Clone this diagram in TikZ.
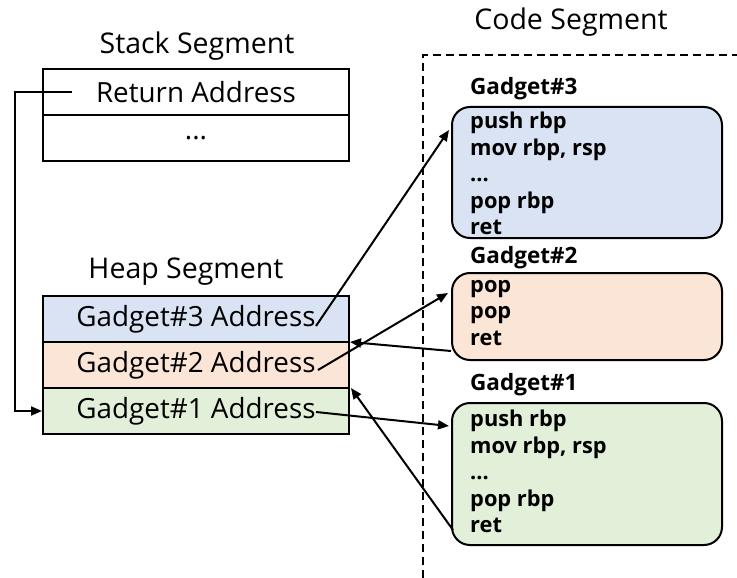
\documentclass[tikz,border=0pt]{standalone}
\usepackage{fontspec}
\setmainfont{Open Sans}
\usetikzlibrary{arrows.meta,calc}
\definecolor{cblue}{HTML}{DAE3F3}
\definecolor{corange}{HTML}{FBE5D6}
\definecolor{cgreen}{HTML}{E2F0D9}
\begin{document}
\begin{tikzpicture}[x=1pt,y=-1pt,
  lbl/.style={font=\fontsize{28.5}{32}\selectfont, inner sep=0pt},
  cell/.style={draw, line width=2pt, minimum width=306pt, minimum height=46pt, inner sep=0pt, font=\fontsize{27.8}{32}\selectfont},
  gbox/.style={draw, line width=2pt, rounded corners=18pt, minimum width=270pt, inner sep=0pt},
  gtitle/.style={font=\bfseries\fontsize{22.5}{26}\selectfont, anchor=base west, inner sep=0pt},
  gcode/.style={font=\bfseries\fontsize{21.8}{26.5}\selectfont, align=left, anchor=north west, inner sep=0pt},
  arr/.style={line width=2pt, -{Triangle[length=11pt,width=9pt]}}
]
\useasboundingbox (0,0) rectangle (737,578);

% headings
\node[lbl] (codet) at (571,22) {Code Segment};
\node[lbl] (stackt) at (197,46) {Stack Segment};
\node[lbl] (heapt) at (186,272) {Heap Segment};

% code segment border
\coordinate (d1) at (423,578);
\coordinate (d2) at (423,55);
\coordinate (d3) at (737,55);
\draw[line width=2pt, dash pattern=on 8pt off 5pt] (d1) -- (d2) -- (d3);

% stack
\node[cell] (ret) at (196,92) {Return Address};
\node[cell] (dots) at (196,138) {...};

% heap
\node[cell, fill=cblue] (h3) at (196,319) {Gadget\#3 Address};
\node[cell, fill=corange] (h2) at (196,365) {Gadget\#2 Address};
\node[cell, fill=cgreen] (h1) at (196,411) {Gadget\#1 Address};

% gadgets
\node[gtitle] (g3t) at (470,95) {Gadget\#3};
\node[gbox, fill=cblue, minimum height=131pt] (g3) at (587,172.5) {};
\node[gcode] (g3c) at (470,112) {push rbp\\mov rbp, rsp\\...\\pop rbp\\ret};

\node[gtitle] (g2t) at (470,263) {Gadget\#2};
\node[gbox, fill=corange, minimum height=87pt] (g2) at (587,316.5) {};
\node[gcode] (g2c) at (470,280) {pop\\pop\\ret};

\node[gtitle] (g1t) at (470,390) {Gadget\#1};
\node[gbox, fill=cgreen, minimum height=142pt] (g1) at (587,474) {};
\node[gcode] (g1c) at (470,410) {push rbp\\mov rbp, rsp\\...\\pop rbp\\ret};

% connector points
\coordinate (rs) at (72,92);
\coordinate (c1) at (15,92);
\coordinate (c2) at (15,411);
\coordinate (h3e) at (316,326);
\coordinate (h2e) at (318,370);
\coordinate (h1e) at (316,412);
\coordinate (g3in) at (449,130);
\coordinate (g2in) at (448,293);
\coordinate (g2out) at (451,351);
\coordinate (g1in) at (449,426);
\coordinate (g1out) at (453,530);
\coordinate (h23) at (350,342);
\coordinate (h12) at (351,388);

\draw[arr] (rs) -- (c1) -- (c2) -- (h1.west);
\draw[arr] (h3e) -- (g3in);
\draw[arr] (h2e) -- (g2in);
\draw[arr] (g2out) -- (h23);
\draw[arr] (h1e) -- (g1in);
\draw[arr] (g1out) -- (h12);
\end{tikzpicture}
\end{document}
